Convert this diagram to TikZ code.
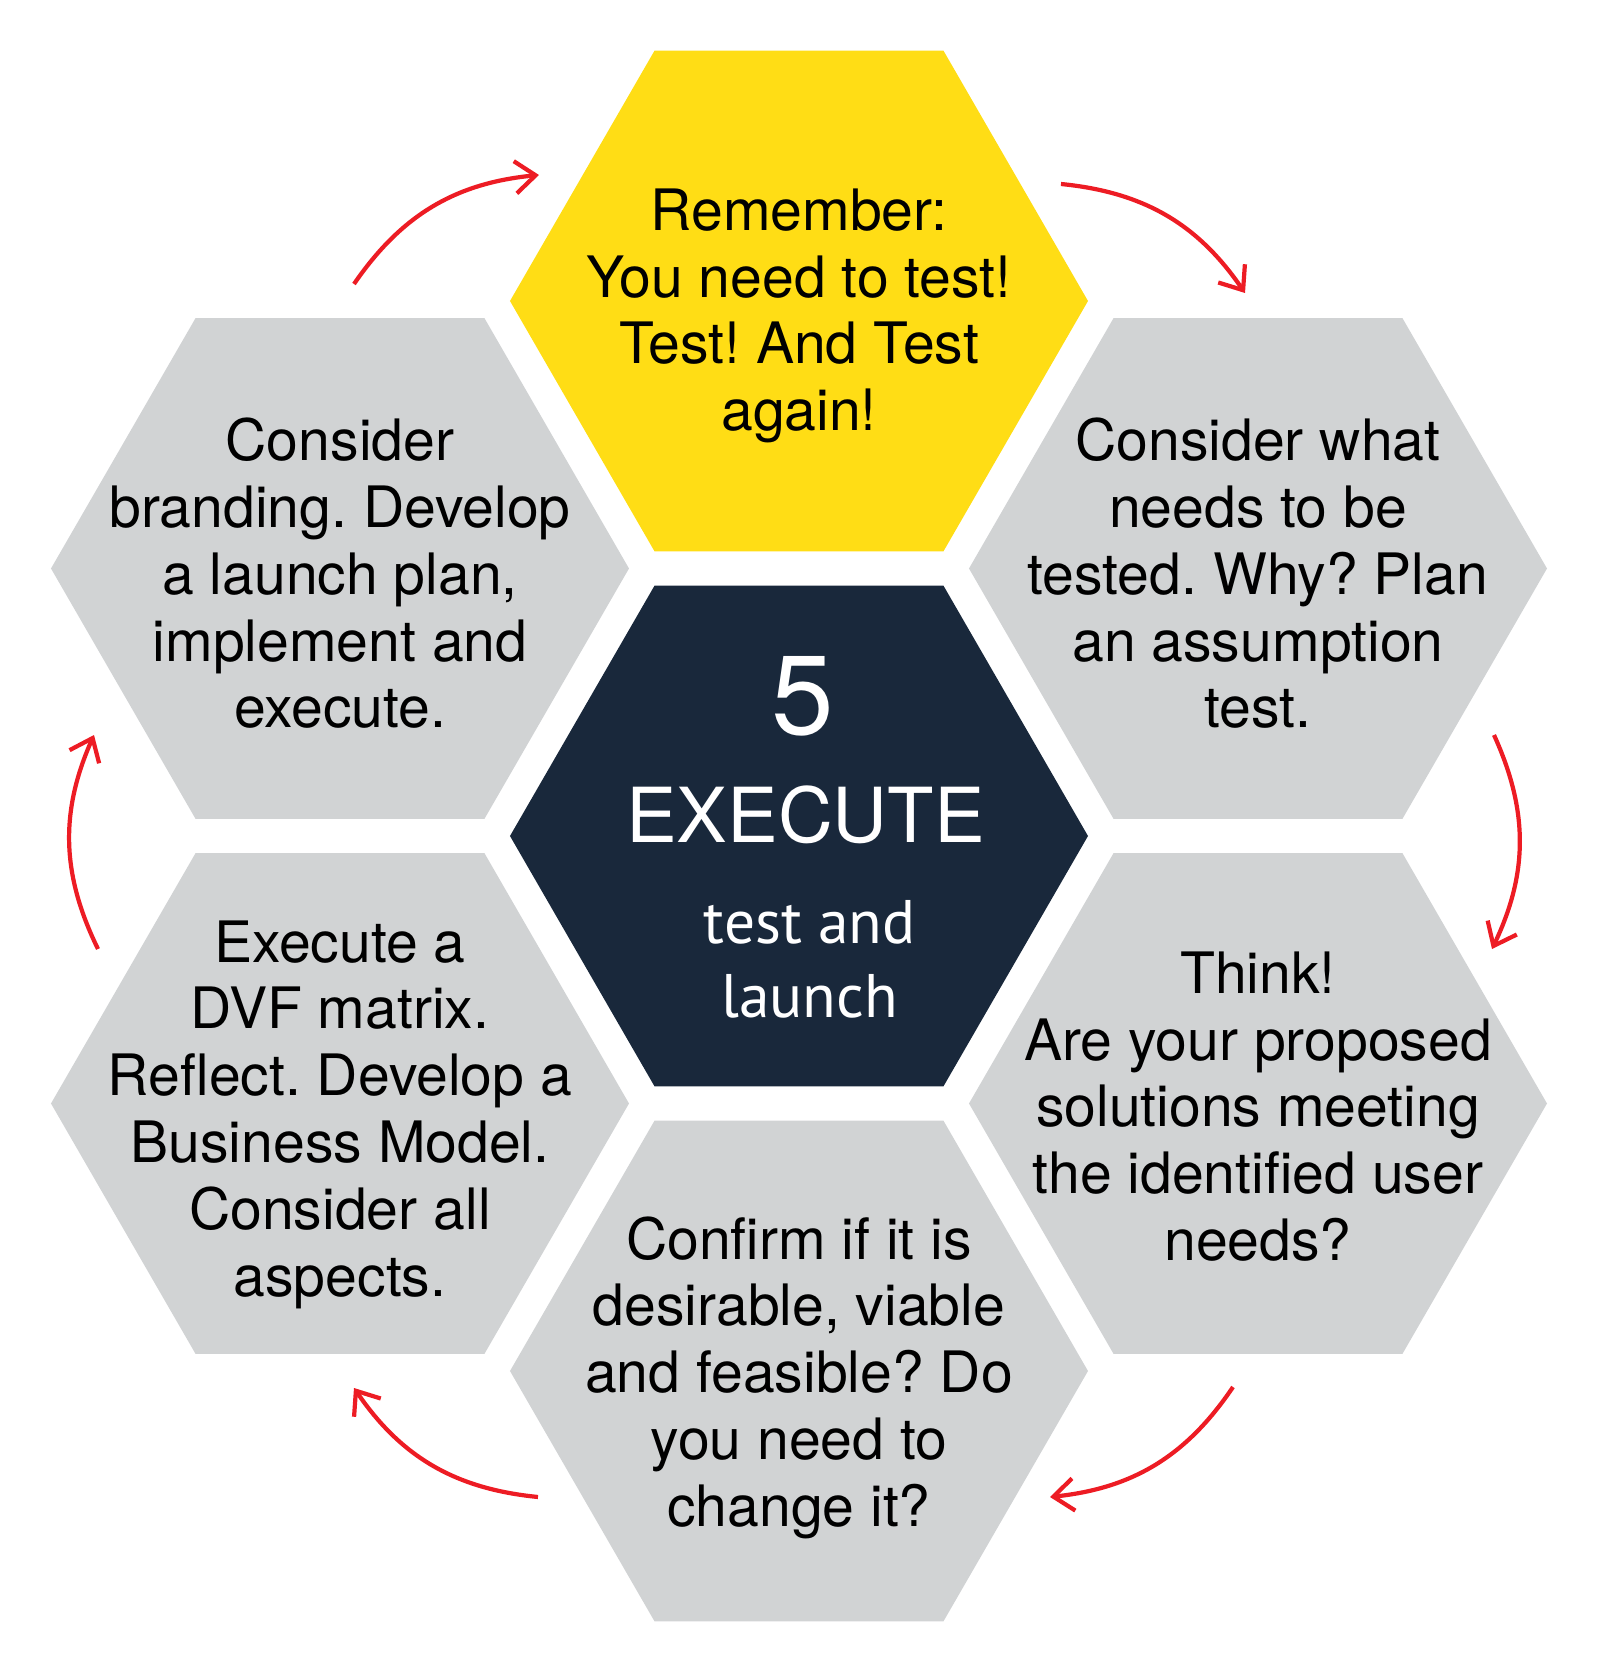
\documentclass[tikz,border=0pt]{standalone}
\usepackage{fontspec}
\setmainfont{TeX Gyre Heros}
\newfontfamily\launchfont{PT Sans}
\usepackage{xcolor}
\definecolor{hexyellow}{HTML}{FFDD15}
\definecolor{hexgray}{HTML}{D1D3D4}
\definecolor{hexnavy}{HTML}{19283B}
\definecolor{cyclered}{HTML}{ED1C24}
\usetikzlibrary{
  arrows.meta,
  positioning,
  shapes.geometric
}
\frenchspacing

\begin{document}
\begin{tikzpicture}[
    hexa/.style={regular polygon, regular polygon sides=6, minimum size=5.78cm, inner sep=0pt, outer sep=0pt},
    hextext/.style={align=center, inner sep=0pt, font=\fontsize{16.25}{19}\selectfont},
    looparrow/.style={draw=cyclered, line width=1.2pt,
      -{Straight Barb[length=5.8pt, width=9.2pt, line cap=butt, line join=miter]}}
  ]
  \useasboundingbox (-7.99,-8.35) rectangle (8.07,8.36);

  %% --- Centre hexagon ---
  \node[hexa, fill=hexnavy] (c) at (0,0) {};

  %% --- Outer ring ---
  \node[hexa, fill=hexyellow] (top) at (0,5.35)       {};
  \node[hexa, fill=hexgray]   (ur)  at (4.59,2.675)   {};
  \node[hexa, fill=hexgray]   (lr)  at (4.59,-2.675)  {};
  \node[hexa, fill=hexgray]   (bot) at (0,-5.35)      {};
  \node[hexa, fill=hexgray]   (ll)  at (-4.59,-2.675) {};
  \node[hexa, fill=hexgray]   (ul)  at (-4.59,2.675)  {};

  %% --- Centre text ---
  \node[text=white, inner sep=0pt, font=\fontsize{32}{36}\selectfont, xshift=0.04cm, yshift=1.40cm] (num) at (c) {5};
  \node[text=white, inner sep=0pt, font=\fontsize{21.6}{24}\selectfont, xshift=0.065cm, yshift=0.215cm] (phase) at (c) {EXECUTE};
  \node[text=white, inner sep=0pt, align=center, font=\launchfont\fontsize{17.5}{21}\selectfont, xshift=0.107cm, yshift=-1.235cm] (sub) at (c)
    {test and\\launch};

  %% --- Ring texts ---
  \node[hextext, yshift=-0.15cm] (toptxt) at (top)
    {Remember:\\You need to test!\\Test! And Test\\again!};
  \node[hextext, yshift=-0.05cm] (urtxt) at (ur)
    {Consider what\\needs to be\\tested. Why? Plan\\an assumption\\test.};
  \node[hextext, yshift=-0.03cm] (lrtxt) at (lr)
    {Think!\\Are your proposed\\solutions meeting\\the identified user\\needs?};
  \node[hextext, yshift=-0.065cm] (bottxt) at (bot)
    {Confirm if it is\\desirable, viable\\and feasible? Do\\you need to\\change it?};
  \node[hextext, yshift=-0.11cm] (lltxt) at (ll)
    {Execute a\\DVF matrix.\\Reflect. Develop a\\Business Model.\\Consider all\\aspects.};
  \node[hextext, yshift=-0.05cm] (ultxt) at (ul)
    {Consider\\branding. Develop\\a launch plan,\\implement and\\execute.};

  %% --- Arrow ends ---
  \coordinate (s1) at (-4.45,5.52);  \coordinate (e1) at (-2.60,6.61);
  \coordinate (s2) at (2.62,6.52);   \coordinate (e2) at (4.46,5.43);
  \coordinate (s3) at (6.95,1.01);   \coordinate (e3) at (6.93,-1.13);
  \coordinate (s4) at (4.34,-5.51);  \coordinate (e4) at (2.51,-6.61);
  \coordinate (s5) at (-2.61,-6.61); \coordinate (e5) at (-4.45,-5.52);
  \coordinate (s6) at (-7.01,-1.13); \coordinate (e6) at (-7.05,1.01);

  %% --- Clockwise arrows ---
  \foreach \n in {1,...,6}
    \draw[looparrow] (s\n) to[bend left=25] (e\n);
\end{tikzpicture}
\end{document}
